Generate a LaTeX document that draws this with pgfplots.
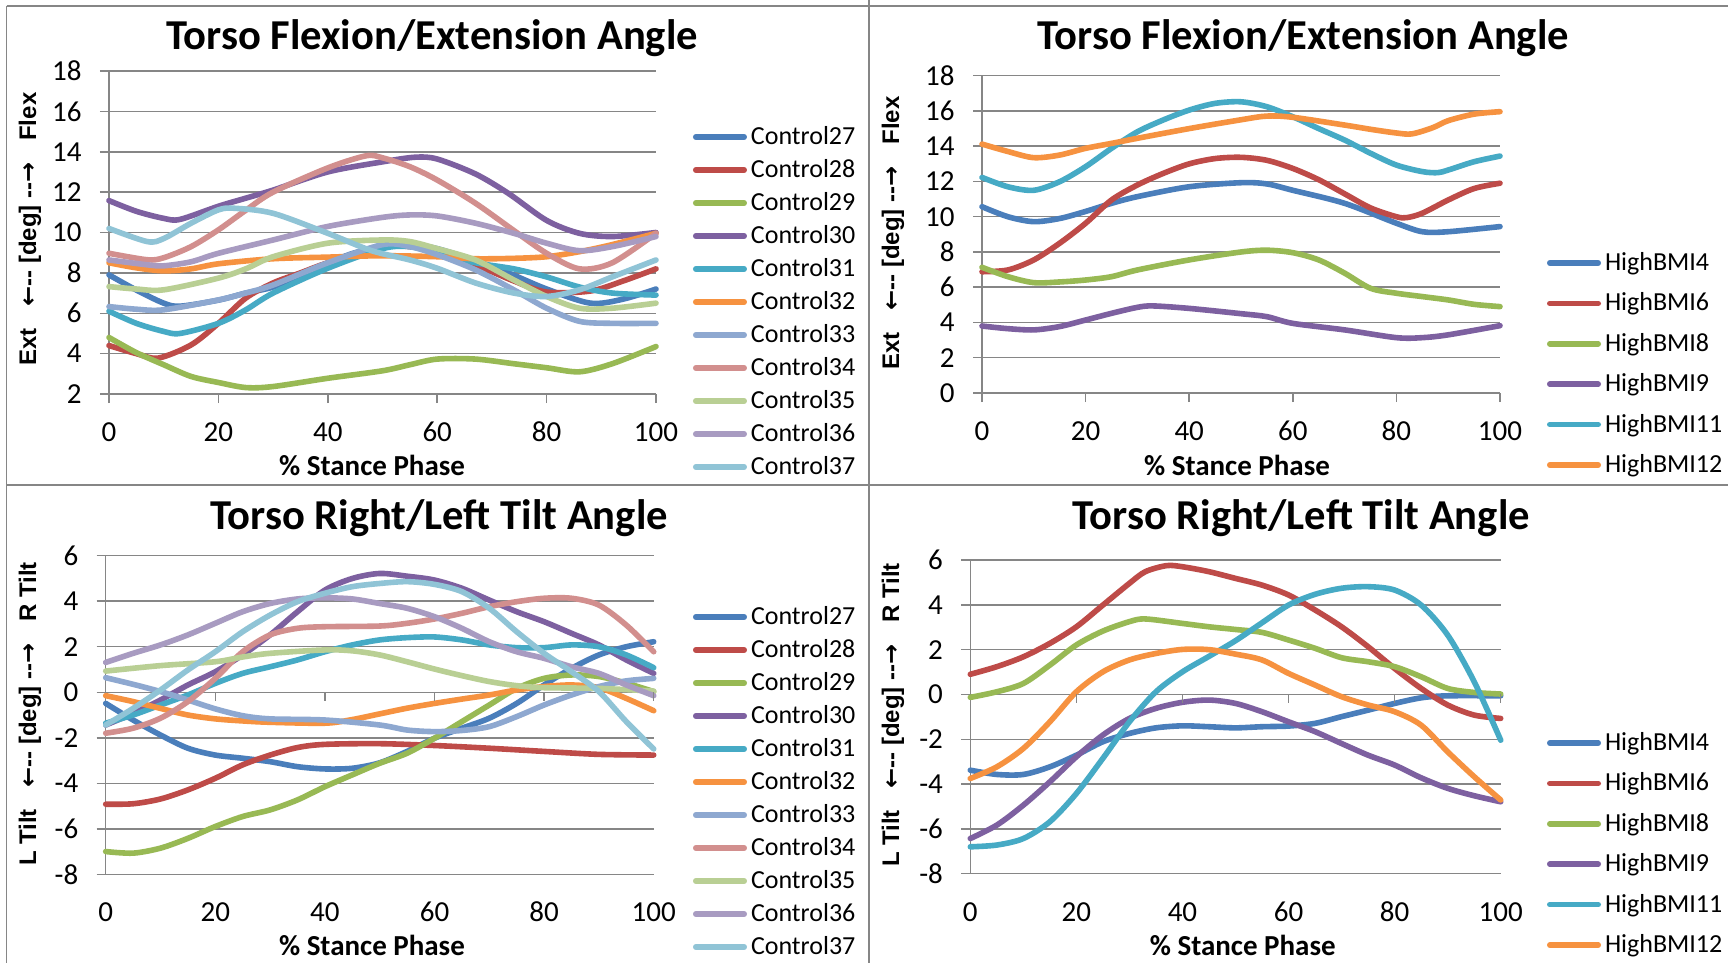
\documentclass[border=0pt]{standalone}
\usepackage{fontspec}
\setmainfont{Carlito}
\newfontfamily\lab{Liberation Sans}
\newfontfamily\arr{DejaVu Sans}
\usepackage{pgfplots}
\pgfplotsset{compat=1.18}
\definecolor{gridgray}{HTML}{868686}
\definecolor{cA}{HTML}{4A7EBB}
\definecolor{cB}{HTML}{BE4B48}
\definecolor{cC}{HTML}{98B954}
\definecolor{cD}{HTML}{7D60A0}
\definecolor{cE}{HTML}{46AAC5}
\definecolor{cF}{HTML}{F69240}
\definecolor{cG}{HTML}{8EA8D0}
\definecolor{cH}{HTML}{D28F8E}
\definecolor{cI}{HTML}{B9CF94}
\definecolor{cJ}{HTML}{A89BC1}
\definecolor{cK}{HTML}{90C4D6}
\pgfplotsset{
  panel/.style={
    scale only axis, clip=false, enlargelimits=false,
    axis lines=left, axis line style={-, draw=gridgray, line width=0.75pt},
    tick align=outside, major tick length=4.5pt,
    tick style={draw=gridgray, line width=0.75pt},
    ymajorgrids, grid style={draw=gridgray, line width=0.75pt},
    xmin=0, xmax=100, xtick={0,20,...,100},
    /pgf/number format/assume math mode=true,
    every axis title shift=0pt,
    ticklabel style={font=\fontsize{14.5pt}{14.5pt}\selectfont, inner sep=0pt},
    xticklabel style={anchor=base, yshift=-19.2pt},
    yticklabel style={anchor=east, xshift=-9pt},
    title style={font=\bfseries\fontsize{21.3pt}{21.3pt}\selectfont, anchor=center, inner sep=0pt},
    xlabel style={font=\bfseries\fontsize{14.5pt}{14.5pt}\selectfont, anchor=center, inner sep=0pt},
    ylabel style={font=\lab\bfseries\fontsize{12pt}{12pt}\selectfont, anchor=center, inner sep=0pt},
    every axis plot/.append style={line width=2.8pt, line join=round, line cap=round, smooth, no markers},
    legend cell align=left,
    legend image code/.code={\draw[##1, line width=2.8pt, line cap=round] (1.4pt,0pt) -- (25.6pt,0pt);},
    legend style={draw=none, fill=none, inner sep=0pt, outer sep=0pt, anchor=north west,
      font=\fontsize{13pt}{13pt}\selectfont,
      /tikz/every odd column/.append style={column sep=2pt}},
  },
}
\begin{document}
\begin{tikzpicture}
\useasboundingbox (0pt,0pt) rectangle (864pt,-481.5pt);
\fill[white] (0pt,0pt) rectangle (864pt,-481.5pt);
\draw[gridgray, line width=0.75pt] (3.25pt,-3pt) -- (864pt,-3pt);
\draw[gridgray, line width=0.75pt] (3.25pt,-3pt) -- (3.25pt,-481.5pt);
\draw[gridgray, line width=0.75pt] (434.5pt,0pt) -- (434.5pt,-481.5pt);
\draw[gridgray, line width=0.75pt] (3.25pt,-242.5pt) -- (864pt,-242.5pt);

% ---------------- Top left ----------------
\begin{axis}[panel, at={(54.5pt,-197pt)}, anchor=south west, width=273.5pt, height=161.5pt,
  ymin=2, ymax=18, ytick={2,4,...,18},
  title={Torso Flexion/Extension Angle}, title style={at={(0.5905,1.102)}},
  xlabel={\% Stance Phase}, xlabel style={at={(0.481,-0.2198)}},
  ylabel={Ext\hspace{0.9em}{\arr ←}-- [deg] --{\arr →}\hspace{0.9em}Flex}, ylabel style={at={(-0.1444,0.5108)}},
  legend style={at={(1.0676,0.8467)}, nodes={inner sep=0pt, minimum height=16.5pt}}]
\addplot[cA] coordinates {(0,7.9)(5,7.15)(10,6.5)(13,6.35)(20,6.65)(25,7.0)(30,7.3)(35,7.9)(40,8.5)(45,9.0)(50,9.3)(55,9.4)(60,9.2)(67,8.6)(73,8.0)(80,7.2)(88,6.5)(94,6.7)(100,7.2)};
\addplot[cB] coordinates {(0,4.4)(5,4.0)(9,3.78)(15,4.43)(20,5.5)(25,6.75)(30,7.5)(35,8.0)(40,8.5)(50,9.3)(55,9.3)(60,9.1)(67,8.4)(74,7.6)(80,7.05)(88,7.1)(94,7.6)(100,8.2)};
\addplot[cC] coordinates {(0,4.8)(5,4.05)(10,3.45)(15,2.87)(20,2.57)(25,2.32)(30,2.37)(40,2.78)(50,3.15)(55,3.45)(60,3.73)(67,3.73)(74,3.5)(80,3.3)(86,3.1)(92,3.5)(100,4.35)};
\addplot[cD] coordinates {(0,11.58)(5,11.05)(10,10.7)(13,10.65)(20,11.3)(25,11.7)(30,12.1)(40,13.0)(50,13.5)(56,13.73)(60,13.64)(67,12.9)(73,11.94)(80,10.6)(86,9.96)(92,9.8)(100,10.0)};
\addplot[cE] coordinates {(0,6.1)(5,5.5)(10,5.1)(13,5.0)(20,5.5)(25,6.17)(30,7.0)(40,8.23)(50,9.2)(55,9.3)(60,8.97)(67,8.5)(74,8.2)(80,7.8)(86,7.3)(92,7.0)(100,6.9)};
\addplot[cF] coordinates {(0,8.5)(5,8.25)(10,8.1)(15,8.2)(20,8.45)(30,8.7)(40,8.78)(50,8.85)(60,8.8)(67,8.7)(74,8.72)(80,8.8)(86,9.05)(92,9.4)(100,9.96)};
\addplot[cG] coordinates {(0,6.33)(5,6.2)(10,6.17)(20,6.66)(25,7.0)(30,7.4)(40,8.5)(50,9.4)(55,9.3)(60,8.9)(67,8.15)(74,7.16)(80,6.25)(86,5.6)(92,5.5)(100,5.5)};
\addplot[cH] coordinates {(0,8.97)(7,8.65)(10,8.75)(15,9.3)(20,10.13)(25,11.1)(30,12.0)(40,13.2)(47,13.8)(50,13.7)(55,13.26)(60,12.6)(67,11.45)(74,10.1)(80,8.97)(86,8.2)(92,8.5)(100,9.96)};
\addplot[cI] coordinates {(0,7.32)(5,7.2)(10,7.16)(20,7.74)(25,8.2)(30,8.8)(40,9.47)(50,9.63)(55,9.55)(60,9.2)(67,8.64)(74,7.65)(80,6.83)(86,6.25)(92,6.25)(100,6.5)};
\addplot[cJ] coordinates {(0,8.64)(7,8.4)(10,8.35)(15,8.55)(20,8.97)(30,9.63)(40,10.3)(50,10.75)(55,10.87)(60,10.82)(67,10.46)(74,9.96)(80,9.47)(86,9.1)(92,9.3)(100,9.8)};
\addplot[cK] coordinates {(0,10.2)(7,9.55)(10,9.7)(15,10.46)(20,11.12)(23,11.2)(30,10.95)(40,9.96)(48,9.1)(55,8.64)(60,8.23)(67,7.5)(74,7.0)(80,6.83)(86,7.16)(92,7.8)(100,8.64)};
\legend{Control27,Control28,Control29,Control30,Control31,Control32,Control33,Control34,Control35,Control36,Control37}
\end{axis}

% ---------------- Top right ----------------
\begin{axis}[panel, at={(491pt,-196.5pt)}, anchor=south west, width=259pt, height=158.65pt,
  ymin=0, ymax=18, ytick={0,2,...,18},
  title={Torso Flexion/Extension Angle}, title style={at={(0.6197,1.1188)}},
  xlabel={\% Stance Phase}, xlabel style={at={(0.4923,-0.2269)}},
  ylabel={Ext\hspace{0.9em}{\arr ←}-- [deg] --{\arr →}\hspace{0.9em}Flex}, ylabel style={at={(-0.1718,0.5043)}},
  legend style={at={(1.0907,0.4734)}, nodes={inner sep=0pt, minimum height=20.2pt}}]
\addplot[cA] coordinates {(0,10.57)(5,10.0)(10,9.72)(15,9.9)(20,10.3)(25,10.76)(30,11.14)(40,11.7)(50,11.93)(55,11.86)(60,11.5)(70,10.76)(80,9.63)(85,9.15)(90,9.15)(100,9.44)};
\addplot[cB] coordinates {(0,6.88)(5,6.98)(10,7.55)(15,8.5)(20,9.63)(25,10.95)(30,11.8)(35,12.46)(40,13.0)(45,13.3)(50,13.37)(55,13.2)(60,12.74)(65,12.1)(70,11.3)(75,10.5)(80,10.0)(82,9.95)(85,10.2)(90,10.95)(95,11.6)(100,11.9)};
\addplot[cC] coordinates {(0,7.13)(5,6.6)(10,6.26)(15,6.3)(20,6.41)(25,6.6)(30,6.98)(40,7.55)(50,8.0)(55,8.1)(60,7.96)(65,7.55)(70,6.8)(75,5.94)(80,5.66)(85,5.47)(90,5.28)(95,5.03)(100,4.9)};
\addplot[cD] coordinates {(0,3.8)(5,3.65)(10,3.58)(15,3.77)(20,4.14)(25,4.52)(30,4.86)(33,4.94)(40,4.8)(50,4.5)(55,4.33)(60,3.95)(70,3.58)(80,3.14)(85,3.14)(90,3.3)(100,3.82)};
\addplot[cE] coordinates {(0,12.23)(5,11.7)(10,11.5)(15,11.99)(20,12.84)(25,13.88)(30,14.82)(35,15.49)(40,16.05)(45,16.43)(50,16.52)(55,16.24)(60,15.67)(65,15.0)(70,14.35)(75,13.6)(80,12.93)(85,12.56)(88,12.5)(90,12.65)(95,13.12)(100,13.44)};
\addplot[cF] coordinates {(0,14.12)(5,13.7)(10,13.35)(15,13.5)(20,13.88)(25,14.16)(30,14.45)(40,15.0)(50,15.5)(55,15.71)(60,15.64)(70,15.2)(75,14.96)(80,14.75)(83,14.7)(87,15.05)(90,15.45)(95,15.82)(100,15.96)};
\legend{HighBMI4,HighBMI6,HighBMI8,HighBMI9,HighBMI11,HighBMI12}
\end{axis}

% ---------------- Bottom left ----------------
\begin{axis}[panel, at={(52.85pt,-437.15pt)}, anchor=south west, width=274pt, height=159.3pt,
  ymin=-8, ymax=6, ytick={-8,-6,...,6}, xtick style={draw=none},
  title={Torso Right/Left Tilt Angle}, title style={at={(0.6082,1.1183)}},
  xlabel={\% Stance Phase}, xlabel style={at={(0.4859,-0.2219)}},
  ylabel={L Tilt\hspace{0.9em}{\arr ←}-- [deg] --{\arr →}\hspace{0.9em}R Tilt}, ylabel style={at={(-0.1381,0.5031)}},
  legend style={at={(1.0717,0.8594)}, nodes={inner sep=0pt, minimum height=16.5pt}}]
\addplot[cA] coordinates {(0,-0.49)(5,-1.22)(10,-1.88)(15,-2.46)(20,-2.76)(25,-2.9)(30,-3.05)(35,-3.27)(40,-3.37)(45,-3.34)(50,-3.1)(55,-2.6)(60,-2.02)(65,-1.58)(70,-1.14)(75,-0.49)(80,0.32)(85,1.05)(90,1.64)(95,2.0)(100,2.22)};
\addplot[cB] coordinates {(0,-4.92)(5,-4.9)(10,-4.69)(15,-4.29)(20,-3.78)(25,-3.19)(30,-2.76)(35,-2.43)(40,-2.29)(50,-2.26)(60,-2.34)(70,-2.46)(80,-2.6)(90,-2.73)(100,-2.76)};
\addplot[cC] coordinates {(0,-7.0)(5,-7.07)(10,-6.85)(15,-6.42)(20,-5.9)(25,-5.46)(30,-5.17)(35,-4.73)(40,-4.15)(45,-3.63)(50,-3.12)(55,-2.68)(60,-2.02)(65,-1.29)(70,-0.56)(75,0.17)(80,0.61)(85,0.76)(90,0.69)(95,0.4)(100,0.03)};
\addplot[cD] coordinates {(0,-1.44)(5,-0.93)(10,-0.34)(15,0.32)(20,0.9)(25,1.64)(30,2.52)(35,3.54)(40,4.49)(45,5.0)(50,5.22)(55,5.1)(60,4.93)(65,4.57)(70,4.05)(75,3.54)(80,3.1)(85,2.59)(90,2.08)(95,1.42)(100,0.83)};
\addplot[cE] coordinates {(0,-1.36)(5,-1.0)(10,-0.56)(15,-0.12)(20,0.39)(25,0.83)(30,1.12)(35,1.42)(40,1.78)(45,2.08)(50,2.3)(55,2.4)(60,2.43)(65,2.3)(70,2.08)(75,1.96)(80,1.96)(85,2.08)(90,2.0)(95,1.64)(100,1.08)};
\addplot[cF] coordinates {(0,-0.15)(5,-0.41)(10,-0.71)(15,-1.0)(20,-1.17)(25,-1.26)(30,-1.32)(40,-1.36)(45,-1.2)(50,-0.95)(55,-0.7)(60,-0.49)(65,-0.3)(70,-0.12)(75,0.1)(80,0.25)(85,0.32)(90,0.2)(95,-0.27)(100,-0.81)};
\addplot[cG] coordinates {(0,0.64)(5,0.35)(10,0.03)(15,-0.34)(20,-0.73)(25,-1.03)(30,-1.17)(40,-1.22)(50,-1.44)(55,-1.66)(60,-1.73)(65,-1.68)(70,-1.51)(75,-1.07)(80,-0.56)(85,-0.12)(90,0.25)(95,0.5)(100,0.61)};
\addplot[cH] coordinates {(0,-1.8)(5,-1.58)(10,-1.14)(15,-0.41)(20,0.61)(25,1.78)(30,2.52)(35,2.81)(40,2.88)(50,2.91)(55,3.03)(60,3.22)(65,3.47)(70,3.76)(75,3.98)(80,4.13)(85,4.13)(90,3.83)(95,2.95)(100,1.78)};
\addplot[cI] coordinates {(0,0.93)(10,1.17)(20,1.34)(25,1.55)(30,1.71)(40,1.86)(45,1.82)(50,1.64)(55,1.34)(60,1.02)(65,0.73)(70,0.47)(75,0.29)(80,0.2)(90,0.17)(100,0.05)};
\addplot[cJ] coordinates {(0,1.31)(5,1.71)(10,2.08)(15,2.52)(20,3.03)(25,3.54)(30,3.9)(35,4.1)(40,4.15)(45,4.1)(50,3.9)(55,3.69)(60,3.32)(65,2.81)(70,2.22)(75,1.78)(80,1.49)(85,1.12)(90,0.83)(95,0.32)(100,-0.15)};
\addplot[cK] coordinates {(0,-1.44)(5,-0.71)(10,0.1)(15,0.98)(20,1.78)(25,2.66)(30,3.39)(35,3.98)(40,4.35)(45,4.64)(50,4.78)(55,4.86)(60,4.74)(65,4.42)(70,3.69)(75,2.66)(80,1.71)(85,0.9)(90,0.03)(95,-1.29)(100,-2.49)};
\legend{Control27,Control28,Control29,Control30,Control31,Control32,Control33,Control34,Control35,Control36,Control37}
\pgfplotsinvokeforeach{20,40,60,80,100}{\draw[gridgray, line width=0.75pt] (axis cs:#1,0) -- ++(0pt,-4.5pt);}
\end{axis}

% ---------------- Bottom right ----------------
\begin{axis}[panel, at={(485.15pt,-436.85pt)}, anchor=south west, width=265.2pt, height=156.85pt,
  ymin=-8, ymax=6, ytick={-8,-6,...,6}, xtick style={draw=none},
  title={Torso Right/Left Tilt Angle}, title style={at={(0.6235,1.1339)}},
  xlabel={\% Stance Phase}, xlabel style={at={(0.5137,-0.2273)}},
  ylabel={L Tilt\hspace{0.9em}{\arr ←}-- [deg] --{\arr →}\hspace{0.9em}R Tilt}, ylabel style={at={(-0.1457,0.5059)}},
  legend style={at={(1.0873,0.481)}, nodes={inner sep=0pt, minimum height=20.2pt}}]
\addplot[cA] coordinates {(0,-3.38)(5,-3.57)(10,-3.57)(15,-3.23)(20,-2.71)(25,-2.11)(30,-1.74)(35,-1.49)(40,-1.4)(45,-1.44)(50,-1.49)(55,-1.44)(60,-1.41)(65,-1.29)(70,-0.99)(75,-0.7)(80,-0.4)(85,-0.15)(90,-0.06)(100,-0.06)};
\addplot[cB] coordinates {(0,0.9)(5,1.24)(10,1.68)(15,2.28)(20,3.02)(25,3.99)(30,4.96)(33,5.48)(37,5.75)(40,5.7)(45,5.48)(50,5.18)(55,4.88)(60,4.44)(65,3.77)(70,3.02)(75,2.13)(80,1.16)(85,0.27)(90,-0.47)(95,-0.92)(100,-1.07)};
\addplot[cC] coordinates {(0,-0.13)(5,0.12)(10,0.49)(15,1.31)(20,2.21)(25,2.83)(30,3.25)(33,3.37)(40,3.17)(45,3.02)(50,2.9)(55,2.77)(60,2.43)(65,2.06)(70,1.64)(75,1.46)(80,1.24)(85,0.79)(90,0.27)(95,0.09)(100,0.02)};
\addplot[cD] coordinates {(0,-6.43)(5,-5.83)(10,-4.94)(15,-3.9)(20,-2.78)(25,-1.81)(30,-1.07)(35,-0.62)(40,-0.35)(45,-0.25)(50,-0.4)(55,-0.77)(60,-1.22)(65,-1.66)(70,-2.19)(75,-2.71)(80,-3.15)(85,-3.72)(90,-4.19)(95,-4.52)(100,-4.79)};
\addplot[cE] coordinates {(0,-6.8)(5,-6.72)(10,-6.43)(15,-5.68)(20,-4.42)(25,-2.85)(30,-1.22)(35,0.12)(40,1.01)(45,1.7)(50,2.4)(55,3.2)(60,3.99)(65,4.47)(70,4.74)(75,4.81)(80,4.66)(85,3.99)(90,2.65)(95,0.57)(100,-2.04)};
\addplot[cF] coordinates {(0,-3.75)(5,-3.23)(10,-2.41)(15,-1.22)(20,0.12)(25,1.01)(30,1.54)(35,1.83)(40,2.01)(45,2.0)(50,1.8)(55,1.54)(60,0.94)(65,0.42)(70,-0.1)(75,-0.47)(80,-0.77)(85,-1.37)(90,-2.56)(95,-3.67)(100,-4.71)};
\legend{HighBMI4,HighBMI6,HighBMI8,HighBMI9,HighBMI11,HighBMI12}
\pgfplotsinvokeforeach{20,40,60,80,100}{\draw[gridgray, line width=0.75pt] (axis cs:#1,0) -- ++(0pt,-4.5pt);}
\end{axis}
\end{tikzpicture}
\end{document}
